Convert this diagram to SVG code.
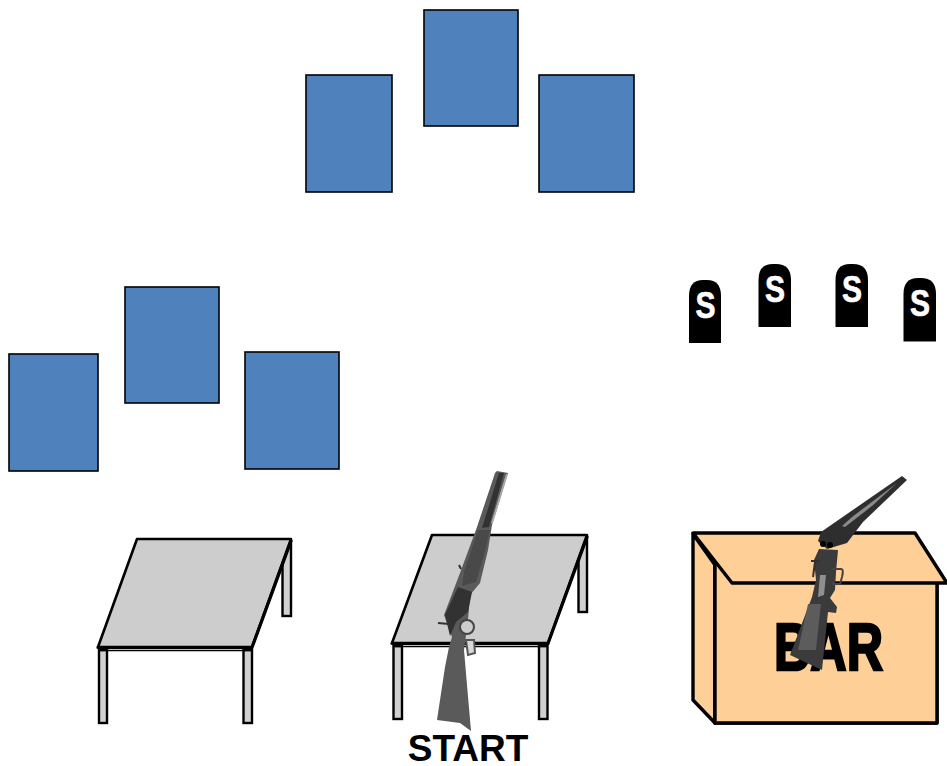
<svg xmlns="http://www.w3.org/2000/svg" width="947" height="766" viewBox="0 0 947 766">
<style>
.card{fill:#4f81bd;stroke:#000;stroke-width:1.6}
.top{fill:#cdcdcd;stroke:#000;stroke-width:2.6;stroke-linejoin:round}
.leg{fill:#d0d0d0;stroke:#000;stroke-width:2.4}
.edge{stroke:#000;stroke-width:3.2;stroke-linecap:round;fill:none}
.thin{stroke:#000;stroke-width:1.4;fill:none}
.stone{fill:#000}
.s{font-family:"Liberation Sans",Arial,sans-serif;font-weight:700;font-size:37px;fill:#fff;stroke:#fff;stroke-width:.7;text-anchor:middle}
.box{fill:#fecf96;stroke:#000;stroke-width:3.4;stroke-linejoin:round}
</style>
<defs><filter id="soft" x="-10%" y="-10%" width="120%" height="120%"><feGaussianBlur stdDeviation="0.6"/></filter></defs>
<rect width="947" height="766" fill="#fff"/>
<g id="connectors"/>
<g id="card-top-1"><rect class="card" x="306" y="75" width="86" height="117"/></g>
<g id="card-top-2"><rect class="card" x="424" y="10" width="94" height="116"/></g>
<g id="card-top-3"><rect class="card" x="539" y="75" width="95" height="117"/></g>
<g id="card-left-1"><rect class="card" x="9" y="354" width="89" height="117"/></g>
<g id="card-left-2"><rect class="card" x="125" y="287" width="94" height="116"/></g>
<g id="card-left-3"><rect class="card" x="245" y="352" width="94" height="117"/></g>

<g id="target-1"><path class="stone" d="M689 343V296Q689 280 703 280H707Q721 280 721 296V343Z"/><text class="s" x="705.500" y="318" textLength="20" lengthAdjust="spacingAndGlyphs">S</text></g>
<g id="target-2"><path class="stone" d="M758.500 327V280Q758.500 264 773 264H776Q791 264 791 280V327Z"/><text class="s" x="775" y="302" textLength="20" lengthAdjust="spacingAndGlyphs">S</text></g>
<g id="target-3"><path class="stone" d="M835.500 327V280Q835.500 264 850 264H853Q868 264 868 280V327Z"/><text class="s" x="852" y="302" textLength="20" lengthAdjust="spacingAndGlyphs">S</text></g>
<g id="target-4"><path class="stone" d="M903.500 341.500V294Q903.500 278 918 278H921Q936 278 936 294V341.500Z"/><text class="s" x="920" y="316" textLength="20" lengthAdjust="spacingAndGlyphs">S</text></g>

<g id="table-left">
<rect class="leg" x="282.500" y="541" width="8.500" height="75"/>
<rect class="leg" x="99" y="650" width="8" height="73"/>
<rect class="leg" x="243.500" y="650" width="8.500" height="73"/>
<path class="top" d="M137 539H291L252 647H98Z"/>
<path class="edge" d="M98 647.500H252L291 541"/>
<path class="thin" d="M99 650.500H252"/>
</g>
<g id="table-start">
<rect class="leg" x="393.500" y="646" width="8.500" height="73"/>
<rect class="leg" x="539" y="646" width="8.500" height="73"/>
<rect class="leg" x="578.500" y="537" width="8.500" height="75"/>
<path class="top" d="M432 535H587L548 643H392Z"/>
<path class="edge" d="M392 643.500H548L587 537"/>
<path class="thin" d="M393 646.500H548"/>
</g>

<g id="rifle" filter="url(#soft)">
<path fill="#5a5a5a" d="M495 473L497 471L508 473L492 525L488 550L480 583L470 595L468 620L464 650L467 685L471 731L460 723L437 720L445 667L449 647L452 637L444 615L460 573L477 527Z"/>
<path fill="#333" d="M499 473L504 473L489 527L482 528Z"/>
<path fill="#aaa" d="M506 474L508 474L493 523L491 523Z"/>
<path fill="#4a4a4a" d="M478 530L490 530L484 555L476 582L462 586L464 572Z"/>
<path fill="#303030" d="M458 587L472 592L468 612L456 622L450 636L445 615Z"/>
<ellipse cx="467" cy="627" rx="7" ry="7" fill="#cdcdcd" stroke="#444" stroke-width="2"/>
<path d="M466 640L474 640L475 653L468 655Z" fill="#d8d8d8" stroke="#555" stroke-width="2"/>
<path d="M438 623L449 624M459 565L461 569" stroke="#333" stroke-width="2" fill="none"/>
</g>

<g id="bar-box">
<path class="box" d="M693 534V700L715 723V565Z"/>
<path class="box" d="M715 561V723H937V575Z" stroke="none"/>
<path class="box" d="M715 561V723H937V575" fill="none"/>
<path class="box" d="M693 533H915L947 583H732Z"/>
<text x="774" y="670" font-family="'Liberation Sans',Arial,sans-serif" font-weight="700" font-size="66" textLength="109" lengthAdjust="spacingAndGlyphs" stroke="#000" stroke-width="2.500">BAR</text>
</g>

<g id="shotgun" filter="url(#soft)">
<path fill="#2f2f2f" d="M902 476L907 480L863 522L847 543L827 549L818 541L821 532L860 505Z"/>
<path fill="#8a8a8a" d="M897 483L852 517L842 526L845 527L872 506Z"/>
<circle cx="823" cy="544" r="3" fill="#000"/><circle cx="830" cy="545" r="3" fill="#000"/>
<path fill="#3a3a3a" d="M819 549L838 550L836 572L835 590L830 598L837 607L836 613L828 612L822 670L790 655L812 597L816 580L814 560Z"/>
<path fill="#5c5c5c" d="M808 604L821 604L816 650L798 650Z"/>
<path fill="#8f8f8f" d="M820 575L826 575L824 595L818 597Z"/>
<path d="M832 569H841Q844 569 842 577L840 584H832" fill="none" stroke="#444" stroke-width="2"/>
<path d="M811 561H820M815 562L813 577" stroke="#333" stroke-width="2" fill="none"/>
</g>

<g id="start-label"><text x="468" y="760.500" text-anchor="middle" font-family="'Liberation Sans',Arial,sans-serif" font-weight="700" font-size="37">START</text></g>
</svg>
